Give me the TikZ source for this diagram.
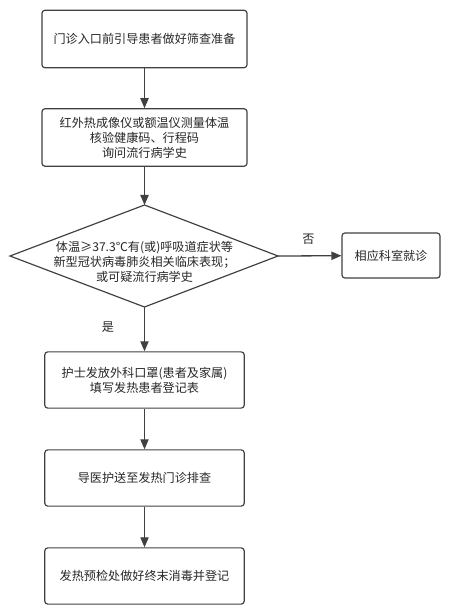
\documentclass[tikz,border=0pt]{standalone}
\usepackage{fontspec}
\setmainfont{Noto Sans CJK SC}
\usetikzlibrary{arrows.meta}

\begin{document}
\begin{tikzpicture}[x=0.85pt, y=-0.85pt,
  txt/.style={font=\fontsize{10.3}{12.75}\selectfont, text=black!85},
  box/.style={txt, draw=black!75, line width=1pt, rounded corners=2.5pt, align=center},
  wide/.style={box, minimum width=174.3pt, minimum height=48.8pt},
  narrow/.style={box, minimum width=169.5pt, minimum height=47.8pt},
  arr/.style={draw=black!75, line width=1.1pt, -{Triangle[length=8.5pt,width=7pt]}}]
\useasboundingbox (0,0) rectangle (464,614);
% upper boxes
\node[wide] (prep) at (144.5,39) {门诊入口前引导患者做好筛查准备};
\node[wide] (temp) at (144.5,137.5) {红外热成像仪或额温仪测量体温\\核验健康码、行程码\\询问流行病学史};
% decision
\coordinate (dtop) at (144.5,205); \coordinate (dright) at (278,256);
\coordinate (dbot) at (144.5,307); \coordinate (dleft) at (10,256);
\draw[draw=black!75, line width=1pt] (dtop) -- (dright) -- (dbot) -- (dleft) -- cycle;
\node[txt, align=center] (cond) at (144.5,262) {体温≥37.3℃有(或)呼吸道症状等\\新型冠状病毒肺炎相关临床表现；\\或可疑流行病学史};
\node[box, minimum width=83.3pt, minimum height=38.3pt] (dept) at (391,255.5) {相应科室就诊};
% lower boxes
\node[narrow] (mask) at (144.5,380) {护士发放外科口罩(患者及家属)\\填写发热患者登记表};
\node[narrow] (send) at (144.5,478) {导医护送至发热门诊排查};
\node[narrow] (disinf) at (144.5,576) {发热预检处做好终末消毒并登记};
% arrows
\draw[arr] (prep) -- (temp);
\draw[arr] (temp) -- (dtop);
\draw[arr] (dright) -- (dept) node[txt, pos=0.48, above=6pt] (no) {否};
\draw[arr] (dbot) -- (mask) node[txt, pos=0.45, left=22pt] (yes) {是};
\draw[arr] (mask) -- (send);
\draw[arr] (send) -- (disinf);
\end{tikzpicture}
\end{document}
